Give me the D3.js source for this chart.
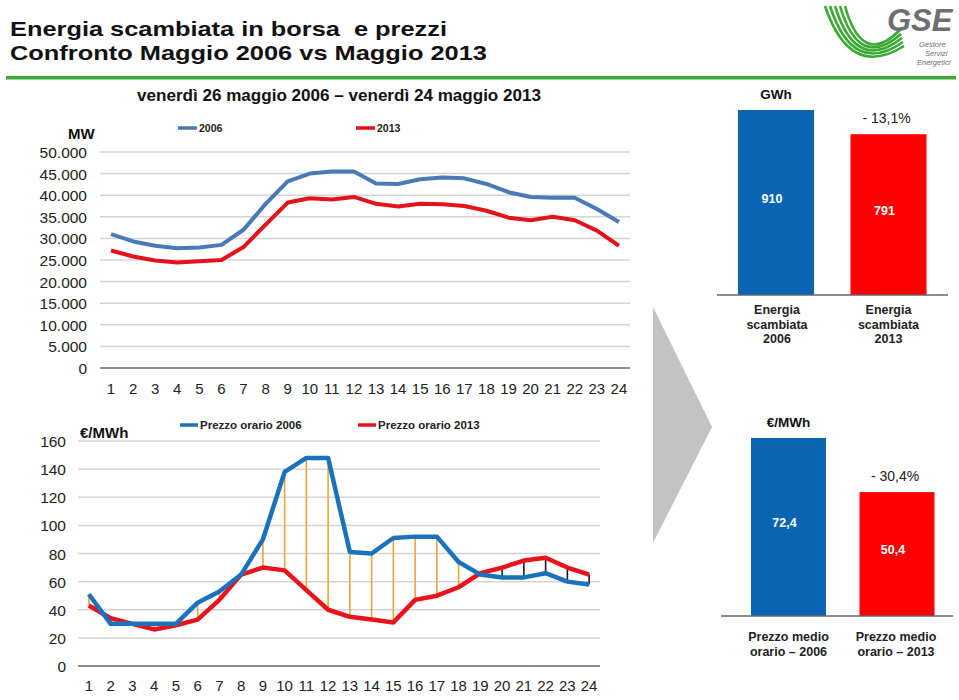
<!DOCTYPE html>
<html><head><meta charset="utf-8">
<script src="https://cdn.jsdelivr.net/npm/d3@7/dist/d3.min.js"></script>
<style>body{margin:0;background:#fff}svg{display:block;font-family:"Liberation Sans",Arial,sans-serif}</style>
</head><body><svg id="c" width="959" height="700"></svg>
<script>
// ---- data ----
const hours = d3.range(1, 25).map(String);
const mw2006 = [31000,29300,28300,27700,27900,28500,32000,38000,43200,45000,45500,45500,42700,42600,43700,44100,43900,42600,40700,39600,39400,39400,36800,33800];
const mw2013 = [27200,25800,24900,24400,24700,25000,28000,33200,38300,39300,39000,39600,38000,37400,38000,37900,37500,36400,34800,34200,35000,34200,31800,28300];
const mwTicks = d3.range(0, 50001, 5000);
const price2006 = [51,30,30,30,30,45,53,65,90,138,148,148,81,80,91,92,92,74,65,63,63,66,60,58];
const price2013 = [43,34,30,26,29,33,47,65,70,68,54,40,35,33,31,47,50,56,66,70,75,77,70,65];
const priceTicks = d3.range(0, 161, 20);
const energyCats = ["Energia scambiata 2006", "Energia scambiata 2013"];
const energyVals = [910, 791];
const energyLabels = ["910", "791"];
const energyDelta = "- 13,1%";
const priceCats = ["Prezzo medio orario – 2006", "Prezzo medio orario – 2013"];
const priceVals = [72.4, 50.4];
const priceLabels = ["72,4", "50,4"];
const priceDelta = "- 30,4%";
const seriesTop = ["2006", "2013"];
const seriesBottom = ["Prezzo orario 2006", "Prezzo orario 2013"];

const itLocale = d3.formatLocale({decimal: ",", thousands: ".", grouping: [3], currency: ["€", ""]});
const fmt = itLocale.format(",");

const svg = d3.select("#c");

// ---- header ----
svg.append("text").attr("x", 10).attr("y", 36).attr("font-size", 20.8).attr("font-weight", "bold").attr("fill", "#111")
  .attr("textLength", 437).attr("lengthAdjust", "spacingAndGlyphs")
  .text("Energia scambiata in borsa  e prezzi").style("white-space", "pre");
svg.append("text").attr("x", 10).attr("y", 60).attr("font-size", 20.8).attr("font-weight", "bold").attr("fill", "#111")
  .attr("textLength", 477).attr("lengthAdjust", "spacingAndGlyphs")
  .text("Confronto Maggio 2006 vs Maggio 2013");
svg.append("rect").attr("x", 6).attr("y", 76).attr("width", 950).attr("height", 3.5).attr("fill", "#3aaa35");

// logo
const logo = svg.append("g");
for (let i = 0; i < 5; i++) {
  logo.append("path")
    .attr("d", `M${825 + i * 5},${6} Q${850 + i * 3},${80 - i * 3} ${904 - i * 1},${46 - i * 4}`)
    .attr("fill", "none").attr("stroke", "#3aaa35").attr("stroke-width", 2.6);
}
logo.append("text").attr("x", 887).attr("y", 31).attr("font-size", 31).attr("font-weight", "bold").attr("font-style", "italic").attr("fill", "#6d6e71").text("GSE");
[["Gestore", 919, 47], ["Servizi", 925, 56], ["Energetici", 917, 65]].forEach(([t, x, y]) =>
  logo.append("text").attr("x", x).attr("y", y).attr("font-size", 7.5).attr("font-style", "italic").attr("fill", "#6d6e71").text(t));

svg.append("text").attr("x", 339).attr("y", 101).attr("text-anchor", "middle").attr("font-size", 16).attr("font-weight", "bold").attr("fill", "#111")
  .attr("textLength", 404).attr("lengthAdjust", "spacingAndGlyphs")
  .text("venerdì 26 maggio 2006 – venerdì 24 maggio 2013");

// ---- generic line chart ----
function lineChart(opt) {
  const g = svg.append("g");
  const x = d3.scaleBand().domain(hours).range(opt.xr);
  const cx = h => x(h) + x.bandwidth() / 2;
  const y = d3.scaleLinear().domain(opt.dom).range(opt.yr);
  g.selectAll(".grid").data(opt.ticks).join("line")
    .attr("x1", opt.xr[0]).attr("x2", opt.xr[1])
    .attr("y1", d => y(d)).attr("y2", d => y(d))
    .attr("stroke", d => d === 0 ? "#8c8c8c" : "#d4d4d4").attr("stroke-width", d => d === 0 ? 2 : 1.5);
  const ya = g.append("g").attr("transform", `translate(${opt.yLabelX},0)`)
    .call(d3.axisLeft(y).tickValues(opt.ticks).tickFormat(opt.fmt).tickSize(0).tickPadding(0));
  ya.select(".domain").remove();
  ya.selectAll("text").attr("font-size", 15.5).attr("fill", "#222").attr("font-family", "Liberation Sans, Arial, sans-serif").attr("dy", "0.36em");
  const xa = g.append("g").attr("transform", `translate(0,${opt.xLabelY})`)
    .call(d3.axisBottom(x).tickSize(0).tickPadding(0));
  xa.select(".domain").remove();
  xa.selectAll("text").attr("font-size", 15).attr("fill", "#222").attr("font-family", "Liberation Sans, Arial, sans-serif").attr("dy", "0.36em");
  if (opt.diff) {
    g.selectAll(".diff").data(hours).join("line")
      .attr("x1", h => cx(h)).attr("x2", h => cx(h))
      .attr("y1", (h, i) => y(opt.a[i])).attr("y2", (h, i) => y(opt.b[i]))
      .attr("stroke", (h, i) => opt.a[i] >= opt.b[i] ? "#eaa43c" : "#1a1a1a").attr("stroke-width", 1.6);
  }
  const line = d3.line().x((d, i) => cx(hours[i])).y(d => y(d));
  g.append("path").datum(opt.b).attr("d", line).attr("fill", "none").attr("stroke", opt.cb).attr("stroke-width", opt.sw).attr("stroke-linejoin", "round");
  g.append("path").datum(opt.a).attr("d", line).attr("fill", "none").attr("stroke", opt.ca).attr("stroke-width", opt.sw).attr("stroke-linejoin", "round");
  g.append("text").attr("x", opt.unit[1]).attr("y", opt.unit[2]).attr("font-size", 15).attr("font-weight", "bold").attr("fill", "#111").text(opt.unit[0]);
  opt.legend.forEach((name, i) => {
    const [lx, ly] = opt.legPos[i];
    g.append("line").attr("x1", lx).attr("x2", lx + opt.legLen).attr("y1", ly).attr("y2", ly)
      .attr("stroke", i === 0 ? opt.ca : opt.cb).attr("stroke-width", 3.5);
    g.append("text").attr("x", lx + opt.legLen + 2).attr("y", ly + 3.8).attr("font-size", opt.legFs).attr("font-weight", "bold").attr("fill", "#222").text(name);
  });
}

lineChart({
  xr: [100, 630], yr: [368, 152], dom: [0, 50000], ticks: mwTicks, fmt: d => fmt(d),
  yLabelX: 87, xLabelY: 389, a: mw2006, b: mw2013, ca: "#4a7ab5", cb: "#e3121b", sw: 4,
  unit: ["MW", 68, 139], legend: seriesTop, legPos: [[178, 128], [356, 128]], legLen: 19, legFs: 10.5, diff: false
});

lineChart({
  xr: [78, 600], yr: [666, 441], dom: [0, 160], ticks: priceTicks, fmt: d => d,
  yLabelX: 66, xLabelY: 686, a: price2006, b: price2013, ca: "#1a72bd", cb: "#e8131b", sw: 4.5,
  unit: ["€/MWh", 80, 438], legend: seriesBottom, legPos: [[180, 425], [358, 425]], legLen: 18, legFs: 11.5, diff: true
});

// ---- arrow ----
svg.append("path").attr("d", "M653,307 L712,427 L653,543 Z").attr("fill", "#c3c3c3");

// ---- bar charts ----
function barChart(opt) {
  const g = svg.append("g");
  const x = d3.scaleBand().domain(opt.cats).range(opt.xr).paddingInner(opt.pi).paddingOuter(opt.pi / 2);
  const y = d3.scaleLinear().domain([0, opt.vals[0]]).range([opt.base, opt.top]);
  g.selectAll("rect").data(opt.vals).join("rect")
    .attr("x", (d, i) => x(opt.cats[i])).attr("width", x.bandwidth())
    .attr("y", d => y(d)).attr("height", d => opt.base - y(d))
    .attr("fill", (d, i) => i === 0 ? "#0a64b4" : "#fe0000");
  g.append("line").attr("x1", opt.lineX[0]).attr("x2", opt.lineX[1]).attr("y1", opt.base).attr("y2", opt.base).attr("stroke", "#666").attr("stroke-width", 1.5);
  opt.vals.forEach((v, i) => {
    const c = x(opt.cats[i]) + x.bandwidth() / 2;
    g.append("text").attr("x", c - 4).attr("y", (y(v) + opt.base) / 2 + opt.valDy).attr("text-anchor", "middle")
      .attr("font-size", 12.5).attr("font-weight", "bold").attr("fill", "#fff").text(opt.labels[i]);
    const words = opt.catLines[i];
    words.forEach((w, k) => g.append("text").attr("x", c + opt.catDx[i]).attr("y", opt.base + opt.catY0 + k * opt.catStep)
      .attr("text-anchor", "middle").attr("font-size", 12.5).attr("font-weight", "bold").attr("fill", "#222").text(w));
  });
  const c0 = x(opt.cats[0]) + x.bandwidth() / 2;
  const c1 = x(opt.cats[1]) + x.bandwidth() / 2;
  g.append("text").attr("x", c0).attr("y", opt.top - 11).attr("text-anchor", "middle").attr("font-size", 13.5).attr("font-weight", "bold").attr("fill", "#111").text(opt.unit);
  g.append("text").attr("x", c1 - 2).attr("y", y(opt.vals[1]) - 11).attr("text-anchor", "middle").attr("font-size", 14).attr("fill", "#222").text(opt.delta);
}

barChart({
  cats: energyCats, vals: energyVals, labels: energyLabels, delta: energyDelta, unit: "GWh",
  xr: [719.75, 944.75], pi: 0.324, base: 295, top: 110, lineX: [717, 948], valDy: 0,
  catLines: [["Energia", "scambiata", "2006"], ["Energia", "scambiata", "2013"]], catDx: [1, 0],
  catY0: 19, catStep: 14.5
});

barChart({
  cats: priceCats, vals: priceVals, labels: priceLabels, delta: priceDelta, unit: "€/MWh",
  xr: [734.25, 951.25], pi: 0.309, base: 616, top: 438, lineX: [721, 953], valDy: 0,
  catLines: [["Prezzo medio", "orario – 2006"], ["Prezzo medio", "orario – 2013"]], catDx: [0, -1],
  catY0: 25, catStep: 15
});
</script></body></html>
